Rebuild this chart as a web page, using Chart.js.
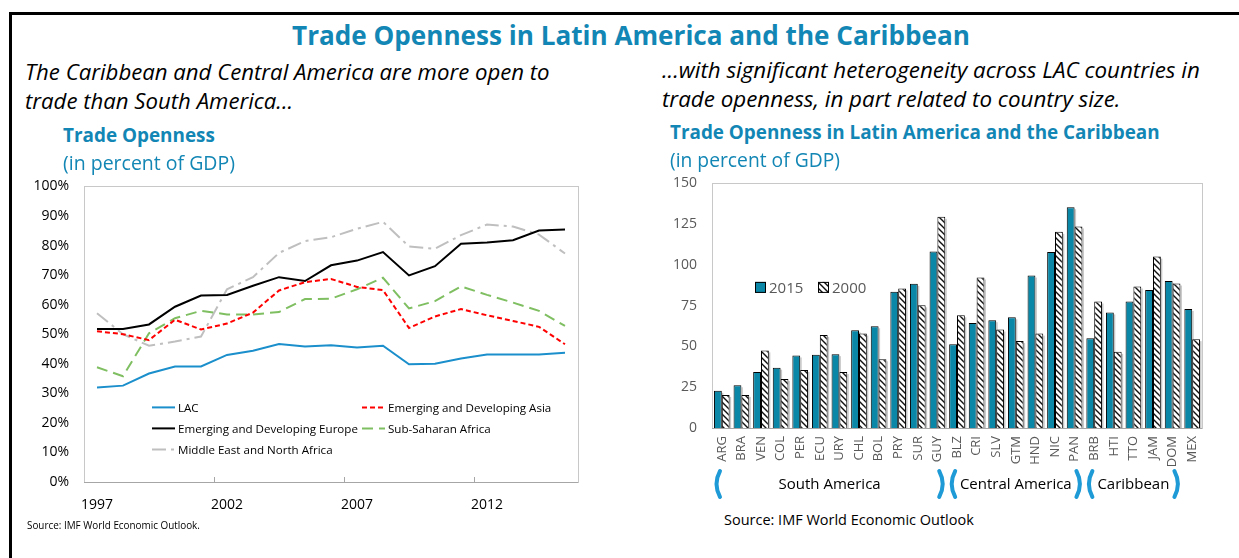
<!DOCTYPE html>
<html><head><meta charset="utf-8">
<script src="https://cdn.jsdelivr.net/npm/chart.js@4/dist/chart.umd.min.js"></script>
<style>
html,body{margin:0;padding:0;background:#fff;width:1239px;height:558px;overflow:hidden;position:relative;font-family:"Open Sans",sans-serif;}
.t{position:absolute;white-space:nowrap;}
#frameTop{position:absolute;left:9px;top:12px;width:1240px;height:0;border-top:3px solid #000;}
#frameLeft{position:absolute;left:9px;top:12px;width:0;height:560px;border-left:3px solid #000;}
canvas{position:absolute;}
#c1{left:20px;top:163px;}
#c2{left:660px;top:160px;}
</style></head><body>
<div id="frameTop"></div><div id="frameLeft"></div>
<canvas id="c1" width="570" height="362"></canvas>
<canvas id="c2" width="560" height="340"></canvas>
<script>
// ---------- Left chart data (percent of GDP) ----------
const years = ['1997','1998','1999','2000','2001','2002','2003','2004','2005','2006','2007','2008','2009','2010','2011','2012','2013','2014','2015'];
const lac    = [32.0,32.6,36.7,39.1,39.1,43.0,44.4,46.7,45.8,46.3,45.5,46.1,39.8,40.0,41.8,43.1,43.1,43.1,43.7];
const asia   = [51.0,50.0,48.0,54.9,51.6,53.6,57.3,64.8,67.6,68.7,66.0,64.9,52.1,56.0,58.5,56.4,54.5,52.5,46.6];
const europe = [51.8,51.8,53.3,59.3,63.1,63.3,66.4,69.3,68.0,73.3,74.9,77.8,69.9,73.0,80.6,81.0,81.8,85.1,85.4];
const ssa    = [38.8,35.8,50.3,55.4,57.9,56.7,56.7,57.5,61.9,62.0,65.2,69.1,58.7,61.2,66.2,63.3,60.7,57.9,52.8];
const mena   = [57.1,50.0,46.1,47.5,49.2,65.2,69.3,77.5,81.5,82.8,85.7,88.0,79.7,78.9,83.5,87.1,86.4,83.7,77.3];
const seriesNames = ['LAC','Emerging and Developing Asia','Emerging and Developing Europe','Sub-Saharan Africa','Middle East and North Africa'];
const yearLabelEvery = 5;

// ---------- Right chart data ----------
const countries = ['ARG','BRA','VEN','COL','PER','ECU','URY','CHL','BOL','PRY','SUR','GUY','BLZ','CRI','SLV','GTM','HND','NIC','PAN','BRB','HTI','TTO','JAM','DOM','MEX'];
const open2015 = [22.8,26.2,34.3,37.0,44.5,44.9,45.3,60.0,62.4,83.5,88.4,108.3,51.4,64.4,66.1,67.9,93.5,107.9,135.4,55.1,70.9,77.6,84.6,90.2,73.0];
const open2000 = [20.3,20.3,47.6,30.1,35.6,57.1,34.3,57.9,42.1,85.6,75.2,129.5,69.1,92.3,60.4,53.3,57.9,120.3,123.6,77.6,46.7,86.8,105.1,88.6,54.5];
const groupNames = ['South America','Central America','Caribbean'];
const groupFirst = [0,12,19];
const groupLast  = [11,18,23];

const FONT = '"Open Sans", sans-serif';

// ---------- HTML text ----------
function placeText(txt, o){
  const s=document.createElement('div'); s.className='t'; s.textContent=txt;
  s.style.fontWeight=o.bold?'700':'400'; s.style.fontStyle=o.italic?'italic':'normal';
  s.style.color=o.color||'#000';
  let size=o.size;
  if(!size){ s.style.fontSize='20px'; s.style.lineHeight='20px'; document.body.appendChild(s);
    const w=s.getBoundingClientRect().width; size=20*o.w/w; }
  else document.body.appendChild(s);
  s.style.fontSize=size+'px'; s.style.lineHeight=size+'px';
  const w2=s.getBoundingClientRect().width;
  s.style.left=(o.align==='center'?o.x-w2/2:o.x)+'px';
  s.style.top=(o.cy-0.56*size)+'px';
  return size;
}
const BLUE='#1286b4';
placeText('Trade Openness in Latin America and the Caribbean',{x:631,cy:37,w:678,bold:true,color:BLUE,align:'center'});
let s1=placeText('The Caribbean and Central America are more open to',{x:25,cy:72,w:525,italic:true});
placeText('trade than South America...',{x:25,cy:101,size:s1,italic:true});
let s2=placeText('...with significant heterogeneity across LAC countries in',{x:662,cy:72,w:538,italic:true});
placeText('trade openness, in part related to country size.',{x:662,cy:101,size:s2,italic:true});
placeText('Trade Openness',{x:63,cy:137,w:152,bold:true,color:BLUE});
placeText('(in percent of GDP)',{x:63,cy:164,w:172,color:BLUE});
placeText('Trade Openness in Latin America and the Caribbean',{x:670,cy:134,w:490,bold:true,color:BLUE});
placeText('(in percent of GDP)',{x:670,cy:161,w:170,color:BLUE});
placeText('Source: IMF World Economic Outlook.',{x:27,cy:527,w:173});
placeText('Source: IMF World Economic Outlook',{x:724,cy:521,w:250});

// ---------- plugins ----------
const frameBox = {
  id:'frameBox',
  afterDraw(chart){
    const {ctx,chartArea:a}=chart; ctx.save();
    ctx.strokeStyle='#c8c8c8'; ctx.lineWidth=1;
    ctx.strokeRect(Math.round(a.left)+0.5,Math.round(a.top)+0.5,Math.round(a.right-a.left),Math.round(a.bottom-a.top));
    ctx.strokeStyle='#a6a6a6';
    ctx.beginPath(); ctx.moveTo(a.left,Math.round(a.bottom)+0.5); ctx.lineTo(a.right,Math.round(a.bottom)+0.5); ctx.stroke();
    ctx.restore();
  }
};

function fitFont(ctx,text,w){ ctx.font='20px '+FONT; return 20*w/ctx.measureText(text).width; }

const leftExtras = {
  id:'leftExtras',
  afterDraw(chart){
    const {ctx,chartArea:a,scales:{x}}=chart; ctx.save();
    ctx.strokeStyle='#a6a6a6'; ctx.lineWidth=1;
    for(let i=yearLabelEvery;i<years.length;i+=yearLabelEvery){
      const px=Math.round((x.getPixelForValue(i-1)+x.getPixelForValue(i))/2)+0.5;
      ctx.beginPath(); ctx.moveTo(px,a.bottom); ctx.lineTo(px,a.bottom-5); ctx.stroke();
    }
    const fs=fitFont(ctx,'Emerging and Developing Europe',180);
    ctx.font=fs+'px '+FONT; ctx.textBaseline='middle'; ctx.fillStyle='#000';
    const cols=[a.left+68,a.left+278];
    const rows=[a.top+221,a.top+242,a.top+263];
    const order=[[0,0,0],[1,1,0],[2,0,1],[3,1,1],[4,0,2]];
    order.forEach(([di,c,r])=>{
      const ds=chart.data.datasets[di];
      const lx=cols[c], ly=rows[r];
      ctx.save(); ctx.strokeStyle=ds.borderColor; ctx.lineWidth=ds.borderWidth; ctx.setLineDash(ds.borderDash||[]);
      ctx.beginPath(); ctx.moveTo(lx,ly); ctx.lineTo(lx+23,ly); ctx.stroke(); ctx.restore();
      ctx.fillText(ds.label,lx+26,ly+1);
    });
    ctx.restore();
  }
};

function hatch(){
  const c=document.createElement('canvas'); c.width=6; c.height=6; const g=c.getContext('2d');
  g.fillStyle='#fff'; g.fillRect(0,0,6,6); g.strokeStyle='#111'; g.lineWidth=1.4;
  g.beginPath(); g.moveTo(-1,-1); g.lineTo(7,7); g.moveTo(-4,2); g.lineTo(2,8); g.moveTo(2,-4); g.lineTo(8,2); g.stroke();
  return g.createPattern(c,'repeat');
}
const HATCH=hatch();
const TEAL='#0a86a6';

const barShadow = {
  id:'barShadow',
  beforeDatasetsDraw(chart){
    const ctx=chart.ctx; ctx.save();
    ctx.fillStyle='rgba(0,0,0,0.22)';
    chart.data.datasets.forEach((ds,di)=>{
      chart.getDatasetMeta(di).data.forEach(el=>{
        const w=el.width; ctx.fillRect(el.x+w/2, el.y+2, 1.5, el.base-el.y-2);
      });
    });
    ctx.restore();
  }
};

const rightExtras = {
  id:'rightExtras',
  afterDraw(chart){
    const {ctx,chartArea:a,scales:{x}}=chart; ctx.save();
    ctx.font='15px '+FONT; ctx.textBaseline='middle';
    const ly=a.top+104;
    const items=[[0,a.left+43],[1,a.left+106]];
    items.forEach(([di,lx])=>{
      const ds=chart.data.datasets[di];
      ctx.fillStyle=ds.backgroundColor; ctx.fillRect(lx,ly-5.5,11,11);
      ctx.strokeStyle='#000'; ctx.lineWidth=1; ctx.strokeRect(lx+0.5,ly-5,10,10);
      ctx.fillStyle='#595959'; ctx.fillText(ds.label,lx+14,ly+1);
    });
    const half=(x.getPixelForValue(1)-x.getPixelForValue(0))/2;
    const yTop=a.bottom+43, yBot=a.bottom+69, yMid=(yTop+yBot)/2;
    ctx.strokeStyle='#1e9ad6'; ctx.lineWidth=4; ctx.lineCap='round';
    ctx.fillStyle='#000'; ctx.font='15px '+FONT; ctx.textAlign='center';
    groupNames.forEach((g,i)=>{
      const l=x.getPixelForValue(groupFirst[i])-half, r=x.getPixelForValue(groupLast[i])+half;
      ctx.beginPath(); ctx.moveTo(l+8,yTop); ctx.quadraticCurveTo(l+1,yMid,l+8,yBot); ctx.stroke();
      ctx.beginPath(); ctx.moveTo(r-8,yTop); ctx.quadraticCurveTo(r-1,yMid,r-8,yBot); ctx.stroke();
      ctx.fillText(g,(l+r)/2,yMid+1);
    });
    ctx.restore();
  }
};

// ---------- Left chart ----------
new Chart(document.getElementById('c1'),{
  type:'line',
  data:{labels:years,datasets:[
    {label:seriesNames[0],data:lac,borderColor:'#1b8fcb',borderWidth:2},
    {label:seriesNames[1],data:asia,borderColor:'#ff0000',borderWidth:2,borderDash:[5,3]},
    {label:seriesNames[2],data:europe,borderColor:'#000000',borderWidth:2},
    {label:seriesNames[3],data:ssa,borderColor:'#7fbf62',borderWidth:2,borderDash:[11,6]},
    {label:seriesNames[4],data:mena,borderColor:'#bfbfbf',borderWidth:2,borderDash:[14,5,3,5]}
  ]},
  options:{
    animation:false,responsive:false,
    elements:{point:{radius:0},line:{tension:0,fill:false}},
    plugins:{legend:{display:false},tooltip:{enabled:false}},
    layout:{padding:{left:0,top:10,right:12,bottom:0}},
    scales:{
      x:{type:'category',offset:true,grid:{display:false,drawTicks:false},border:{display:false},
         ticks:{autoSkip:false,maxRotation:0,minRotation:0,color:'#000',font:{family:FONT,size:14},padding:15,
           callback:(v,i)=> i%yearLabelEvery===0 ? years[i] : null},
         afterFit:s=>{s.height=43;}},
      y:{min:0,max:100,grid:{display:false,drawTicks:false},border:{display:false},
         ticks:{stepSize:10,color:'#000',font:{family:FONT,size:14},padding:15,callback:v=>v+'%'},
         afterFit:s=>{s.width=64;}}
    }
  },
  plugins:[frameBox,leftExtras]
});

// ---------- Right chart ----------
new Chart(document.getElementById('c2'),{
  type:'bar',
  data:{labels:countries,datasets:[
    {label:'2015',data:open2015,backgroundColor:TEAL,borderColor:'#000',borderWidth:1},
    {label:'2000',data:open2000,backgroundColor:HATCH,borderColor:'#000',borderWidth:1}
  ]},
  options:{
    animation:false,responsive:false,
    datasets:{bar:{categoryPercentage:0.8,barPercentage:1.0}},
    plugins:{legend:{display:false},tooltip:{enabled:false}},
    layout:{padding:{left:0,top:12,right:18,bottom:0}},
    scales:{
      x:{grid:{display:false,drawTicks:false},border:{display:false},
         ticks:{autoSkip:false,maxRotation:90,minRotation:90,color:'#595959',font:{family:FONT,size:13},padding:8},
         afterFit:s=>{s.height=72;}},
      y:{min:0,max:150,grid:{display:false,drawTicks:false},border:{display:false},
         ticks:{stepSize:25,color:'#595959',font:{family:FONT,size:14},padding:15},
         afterFit:s=>{s.width=52;}}
    }
  },
  plugins:[barShadow,frameBox,rightExtras]
});
</script>
</body></html>
